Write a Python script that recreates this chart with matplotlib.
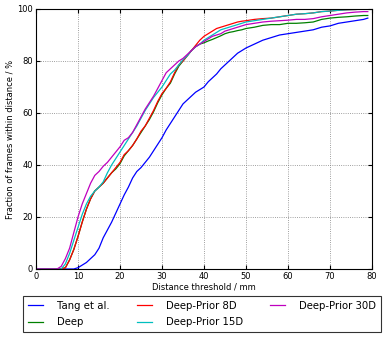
#importamos las librerias necesarias
import matplotlib
matplotlib.use("Agg")
import matplotlib.pyplot as plt

#umbrales de distancia (mm)
dist = [0, 5] + list(range(6, 51)) + list(range(52, 79, 2)) + [79]

#fraccion de frames (%) para cada metodo
tang = [0, 0, 0, 0, 0, 0, 0.5, 1.5, 2.5, 4, 5.5, 8, 12, 15, 18, 21.5, 25, 28.5, 31.5, 35, 37.5,
        39, 41, 43, 45.5, 48, 50.5, 53.5, 56, 58.5, 61, 63.5, 65, 66.5, 68, 69, 70, 72, 73.5,
        75, 77, 78.5, 80, 81.5, 83, 84, 85,
        86.5, 88, 89, 90, 90.5, 91, 91.5, 92, 93, 93.5, 94.5, 95, 95.5, 96, 96.5]
deep = [0, 0, 0, 0.5, 3.5, 7.5, 12.5, 18, 23, 27, 30, 31.5, 33, 35, 37, 38.5, 40.5, 43.5, 45.5,
        47.5, 50, 52.5, 55, 57.5, 60.5, 64, 67, 69.5, 71.5, 75, 78, 80, 82, 84, 85.5, 86.5, 87,
        87.7, 88.3, 89, 89.7, 90.5, 91, 91.3, 91.7, 92, 92.5,
        93, 93.7, 94, 94, 94.5, 94.5, 94.7, 95, 96, 96.5, 96.8, 97, 97.3, 97.5, 97.5]
prior8 = [0, 0, 0, 0.5, 3.5, 7.5, 12.5, 18, 23, 27, 30, 31.5, 33, 35, 37, 39, 41, 44, 45.5,
          47.5, 50, 53, 55, 58, 61, 64.5, 67.5, 69.5, 72, 75.5, 78.5, 80, 82, 84, 86, 88, 89.5,
          90.5, 91.5, 92.5, 93, 93.5, 94, 94.5, 95, 95.3, 95.5,
          96, 96.3, 96.5, 97, 97.5, 98, 98.2, 98.5, 99, 99.2, 99.5, 99.7, 99.8, 100, 100]
prior15 = [0, 0, 0, 2, 6, 11, 16, 21, 25, 28, 30, 31.5, 33.5, 37, 40, 42.5, 45, 47.5, 50,
           52.5, 55, 58, 61, 63.5, 66, 68, 70, 72.5, 75, 76.5, 78.5, 80.5, 82, 84, 85.5, 86.5,
           88, 89, 90, 91, 92, 92.5, 93, 93.5, 94, 94.5, 95,
           95.5, 96, 96.5, 97, 97.5, 98, 98.2, 98.5, 99, 99.2, 99.5, 99.7, 99.8, 100, 100]
prior30 = [0, 0, 1, 4, 8, 14, 20, 25, 29, 33, 36, 37.5, 39.5, 41, 43, 45, 47, 49.5, 50.5,
           52.5, 55.5, 58.5, 61.5, 64, 66.5, 69.5, 72.5, 75.5, 77, 78.5, 80, 81, 82.5, 84,
           85.5, 86.5, 87.5, 88.5, 89.5, 90, 90.5, 91.5, 92, 92.5, 93, 93.5, 94,
           94.5, 95, 95.3, 95.5, 95.7, 96, 96, 96.3, 97, 97.5, 98, 98.5, 98.8, 99, 99]

series = [("Tang et al.", tang, "b"),
          ("Deep", deep, "g"),
          ("Deep-Prior 8D", prior8, "r"),
          ("Deep-Prior 15D", prior15, "c"),
          ("Deep-Prior 30D", prior30, "m")]

fig = plt.figure(figsize=(3.9, 3.41), dpi=100)
ax = fig.add_axes([36/390, 72/341, 336/390, 260/341])

for name, vals, col in series:
    ax.plot(dist, vals, color=col, lw=0.9, label=name)

ax.set_xlim(0, 80)
ax.set_ylim(0, 100)
ax.set_xticks(range(0, 81, 10))
ax.set_yticks(range(0, 101, 20))
ax.tick_params(direction="in", top=True, right=True, labelsize=6, length=3, pad=2)
ax.grid(True, linestyle=":", color="0.5", lw=0.6)
ax.set_xlabel("Distance threshold / mm", fontsize=6, labelpad=1)
ax.set_ylabel("Fraction of frames within distance / %", fontsize=6, labelpad=2)

leg = fig.legend(ncol=3, loc="center", bbox_to_anchor=(23/390, 6/341, 358/390, 42/341),
                 mode="expand", fontsize=7.3, frameon=True, fancybox=False,
                 handlelength=1.5, handletextpad=1.4, borderpad=0.5,
                 borderaxespad=0, labelspacing=0.65, columnspacing=1.0)
leg.get_frame().set_edgecolor("black")
leg.get_frame().set_linewidth(0.8)

plt.savefig("out.png", dpi=100)
